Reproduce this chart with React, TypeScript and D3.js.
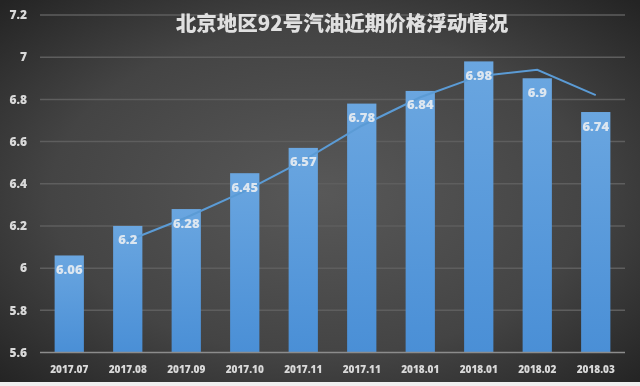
import React from "react";
import * as d3 from "d3";

const categories = ["2017.07", "2017.08", "2017.09", "2017.10", "2017.11", "2017.11", "2018.01", "2018.01", "2018.02", "2018.03"];
const prices = [6.06, 6.2, 6.28, 6.45, 6.57, 6.78, 6.84, 6.98, 6.9, 6.74];
// trendline values (2-period moving average as shown), starting at 2nd category
const trend = [null, 6.13, 6.24, 6.365, 6.51, 6.675, 6.81, 6.91, 6.94, 6.82];
const yTicks = [5.6, 5.8, 6, 6.2, 6.4, 6.6, 6.8, 7, 7.2];
const title = "北京地区92号汽油近期价格浮动情况";

const W = 640, H = 386;
const left = 40, right = 625, top = 15, bottom = 352.5;

export default function App() {
  const x = d3.scaleBand<string>().domain(categories.map((_, i) => String(i))).range([left, right]).paddingInner(0.5).paddingOuter(0.25);
  const y = d3.scaleLinear().domain([5.6, 7.2]).range([bottom, top]);
  const line = d3.line<[number, number | null]>()
    .defined((d) => d[1] != null)
    .x((d) => (x(String(d[0])) as number) + x.bandwidth() / 2)
    .y((d) => y(d[1] as number));
  const font = "'Open Sans', 'Noto Sans CJK SC', sans-serif";
  return (
    <svg width={W} height={H} style={{ position: "fixed", left: 0, top: 0 }} fontFamily={font}>
      <defs>
        <radialGradient id="bg" cx="50%" cy="50%" r="70%">
          <stop offset="0%" stopColor="#585858" />
          <stop offset="60%" stopColor="#444444" />
          <stop offset="100%" stopColor="#242424" />
        </radialGradient>
        <linearGradient id="bar" x1="0" y1="0" x2="0" y2="1">
          <stop offset="0%" stopColor="#6aa6e0" />
          <stop offset="100%" stopColor="#4a8fd6" />
        </linearGradient>
      </defs>
      <rect x={0} y={0} width={W} height={H} fill="url(#bg)" />
      <rect x={0} y={382} width={W} height={4} fill="#efefef" />
      {yTicks.map((t) => (
        <g key={t}>
          {t !== 5.6 && <line x1={left} x2={right} y1={y(t)} y2={y(t)} stroke="#5e5e5e" strokeWidth={1.5} />}
          <text x={27} y={y(t)} dy="0.35em" textAnchor="end" fontSize={12} fontWeight={800} fill="#d9d9d9">{String(t)}</text>
        </g>
      ))}
      {prices.map((v, i) => {
        const bx = x(String(i)) as number;
        return (
          <g key={i}>
            <rect x={bx} y={y(v)} width={x.bandwidth()} height={bottom - y(v)} fill="url(#bar)" />
            <text x={bx + x.bandwidth() / 2} y={369} dy="0.35em" textAnchor="middle" fontSize={10} fontWeight={800} fill="#d9d9d9">{categories[i]}</text>
          </g>
        );
      })}
      <line x1={left} x2={right} y1={bottom} y2={bottom} stroke="#8c8c8c" strokeWidth={1.5} />
      <path d={line(trend.map((v, i) => [i, v] as [number, number | null])) || ""} fill="none" stroke="#5b9bd5" strokeWidth={2} />
      {prices.map((v, i) => {
        const bx = x(String(i)) as number;
        return (
          <text key={i} x={bx + x.bandwidth() / 2} y={y(v) + 14} dy="0.35em" textAnchor="middle" fontSize={13} fontWeight={800} fill="#dce6f0">{String(v)}</text>
        );
      })}
      <text x={342} y={24} dy="0.35em" textAnchor="middle" fontSize={20.5} fontWeight={900} fontFamily="'Noto Sans CJK SC', sans-serif" fill="#e0e0e0">{title}</text>
    </svg>
  );
}
